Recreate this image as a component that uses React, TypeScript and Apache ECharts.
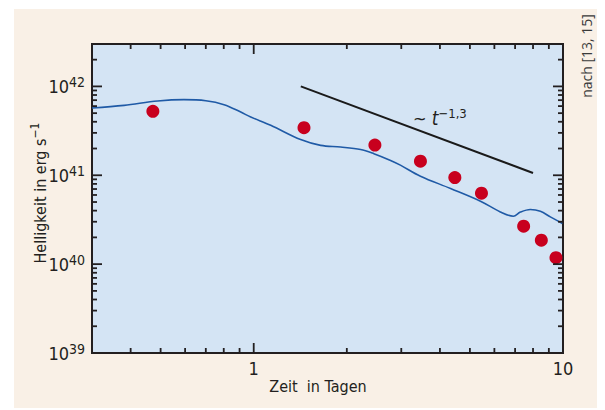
import React, { useEffect, useRef } from "react";
import * as echarts from "echarts";

// Model light curve (time in days, luminosity in erg/s)
const curveT = [0.3, 0.381, 0.489, 0.595, 0.7, 0.802, 0.908, 0.978, 1.135, 1.418, 1.646, 1.91, 2.216, 2.446, 2.77, 2.98, 3.46, 4.33, 5.41, 6.27, 6.91, 7.28, 7.84, 8.45, 9.1, 9.95];
const curveL = [5.71e41, 6.12e41, 6.84e41, 7.09e41, 6.9e41, 6.23e41, 5.14e41, 4.52e41, 3.65e41, 2.52e41, 2.17e41, 2.08e41, 1.95e41, 1.75e41, 1.47e41, 1.3e41, 9.75e40, 7.1e40, 5.11e40, 3.87e40, 3.46e40, 3.85e40, 4.12e40, 3.94e40, 3.4e40, 2.87e40];

// Observed points
const dotT = [0.472, 1.454, 2.465, 3.46, 4.47, 5.45, 7.46, 8.51, 9.49];
const dotL = [5.24e41, 3.43e41, 2.19e41, 1.44e41, 9.42e40, 6.28e40, 2.67e40, 1.86e40, 1.18e40];

// Power law ~ t^-1.3
const powT = [1.42, 8.0];
const powL = [1e42, 1.06e41];

// Axis ranges and ticks
const X_MIN = 0.3;
const X_MAX = 10;
const Y_MIN = 1e39;
const Y_MAX = 3e42;
const xMinorTicks = [0.4, 0.5, 0.6, 0.7, 0.8, 0.9, 2, 3, 4, 5, 6, 7, 8, 9];
const xMajorTicks = [1];
const yMinorTicks = [2e39, 3e39, 4e39, 5e39, 6e39, 7e39, 8e39, 9e39, 2e40, 3e40, 4e40, 5e40, 6e40, 7e40, 8e40, 9e40, 2e41, 3e41, 4e41, 5e41, 6e41, 7e41, 8e41, 9e41, 2e42];
const yMajorTicks = [1e40, 1e41, 1e42];

const FONT = "'Liberation Sans Narrow', 'DejaVu Sans Condensed', 'Roboto', sans-serif";
const TXT = "#231f20";

export default function App() {
  const ref = useRef<HTMLDivElement>(null);
  useEffect(() => {
    if (!ref.current) return;
    const chart = echarts.init(ref.current, null, { renderer: "svg" });

    const tickData: number[][] = [];
    xMinorTicks.forEach((v) => tickData.push([v, Y_MIN, 0, 0]));
    xMajorTicks.forEach((v) => tickData.push([v, Y_MIN, 0, 1]));
    yMinorTicks.forEach((v) => tickData.push([X_MIN, v, 1, 0]));
    yMajorTicks.forEach((v) => tickData.push([X_MIN, v, 1, 1]));

    const isPow10 = (v: number) => {
      const l = Math.log10(v);
      return Math.abs(l - Math.round(l)) < 1e-6;
    };

    const option: any = {
      animation: false,
      backgroundColor: "#ffffff",
      grid: {
        left: 92,
        top: 44,
        right: 42,
        bottom: 57,
        show: true,
        backgroundColor: "#d4e4f4",
        borderColor: "#231f20",
        borderWidth: 2,
      },
      xAxis: {
        type: "log",
        logBase: 10,
        min: X_MIN,
        max: X_MAX,
        axisLine: { show: false },
        axisTick: { show: false },
        splitLine: { show: false },
        axisLabel: {
          margin: 6,
          fontSize: 18,
          fontFamily: FONT,
          color: TXT,
          showMinLabel: false,
          formatter: (v: number) => (isPow10(v) ? String(Math.round(v)) : ""),
        },
      },
      yAxis: {
        type: "log",
        logBase: 10,
        min: Y_MIN,
        max: Y_MAX,
        axisLine: { show: false },
        axisTick: { show: false },
        splitLine: { show: false },
        axisLabel: {
          margin: 7,
          showMaxLabel: false,
          formatter: (v: number) => (isPow10(v) ? `{b|10}{s|${Math.round(Math.log10(v))}}` : ""),
          rich: {
            b: { fontSize: 18, lineHeight: 22, fontFamily: FONT, color: TXT },
            s: { fontSize: 14, lineHeight: 12, verticalAlign: "top", fontFamily: FONT, color: TXT },
          },
        },
      },
      graphic: [
        {
          type: "rect",
          z: -100,
          shape: { x: 14, y: 9, width: 583, height: 399 },
          style: { fill: "#f9f0e6" },
          silent: true,
        },
        {
          type: "text",
          x: 40,
          y: 193,
          rotation: Math.PI / 2,
          style: {
            text: "{b|Helligkeit in erg s}{s|−1}",
            align: "center",
            verticalAlign: "middle",
            rich: {
              b: { fontSize: 16, lineHeight: 22, fontFamily: FONT, fill: TXT },
              s: { fontSize: 12, lineHeight: 12, verticalAlign: "top", fontFamily: FONT, fill: TXT },
            },
          },
        },
        {
          type: "text",
          x: 318,
          y: 386,
          style: {
            text: "Zeit  in Tagen",
            align: "center",
            verticalAlign: "middle",
            fontSize: 16,
            fontFamily: FONT,
            fill: TXT,
          },
        },
        {
          type: "text",
          x: 413,
          y: 118,
          style: {
            text: "{b|~ }{i|t}{s|−1,3}",
            align: "left",
            verticalAlign: "middle",
            rich: {
              b: { fontSize: 18, lineHeight: 22, fontFamily: FONT, fill: TXT },
              i: { fontSize: 19, lineHeight: 22, fontStyle: "italic", fontFamily: FONT, fill: TXT },
              s: { fontSize: 13, lineHeight: 12, verticalAlign: "top", fontFamily: FONT, fill: TXT },
            },
          },
        },
        {
          type: "text",
          x: 586,
          y: 56,
          rotation: Math.PI / 2,
          style: {
            text: "nach [13, 15]",
            align: "center",
            verticalAlign: "middle",
            fontSize: 14,
            fontFamily: "'Open Sans', 'Noto Sans', sans-serif",
            fill: "#3a3a3a",
          },
        },
      ],
      series: [
        {
          type: "line",
          data: curveT.map((t, i) => [t, curveL[i]]),
          smooth: 0.35,
          showSymbol: false,
          lineStyle: { color: "#1f5aa6", width: 1.6 },
          z: 3,
        },
        {
          type: "line",
          data: powT.map((t, i) => [t, powL[i]]),
          showSymbol: false,
          lineStyle: { color: "#1a1a1a", width: 2 },
          z: 3,
        },
        {
          type: "scatter",
          data: dotT.map((t, i) => [t, dotL[i]]),
          symbolSize: 13,
          itemStyle: { color: "#c8001e", opacity: 1 },
          z: 4,
        },
        {
          type: "custom",
          clip: false,
          z: 5,
          data: tickData,
          renderItem: (params: any, api: any) => {
            const kind = api.value(2);
            const major = api.value(3);
            const len = major ? 10 : 5;
            const st = { stroke: "#231f20", lineWidth: 1.8 };
            if (kind === 0) {
              const x = api.value(0);
              const pb = api.coord([x, Y_MIN]);
              const pt = api.coord([x, Y_MAX]);
              return {
                type: "group",
                children: [
                  { type: "line", shape: { x1: pb[0], y1: pb[1], x2: pb[0], y2: pb[1] - len }, style: st },
                  { type: "line", shape: { x1: pt[0], y1: pt[1], x2: pt[0], y2: pt[1] + len }, style: st },
                ],
              };
            }
            const y = api.value(1);
            const pl = api.coord([X_MIN, y]);
            const pr = api.coord([X_MAX, y]);
            return {
              type: "group",
              children: [
                { type: "line", shape: { x1: pl[0], y1: pl[1], x2: pl[0] + len, y2: pl[1] }, style: st },
                { type: "line", shape: { x1: pr[0], y1: pr[1], x2: pr[0] - len, y2: pr[1] }, style: st },
              ],
            };
          },
        },
      ],
    };
    chart.setOption(option);
    return () => chart.dispose();
  }, []);
  return <div ref={ref} style={{ position: "absolute", left: 0, top: 0, width: 605, height: 410 }} />;
}
